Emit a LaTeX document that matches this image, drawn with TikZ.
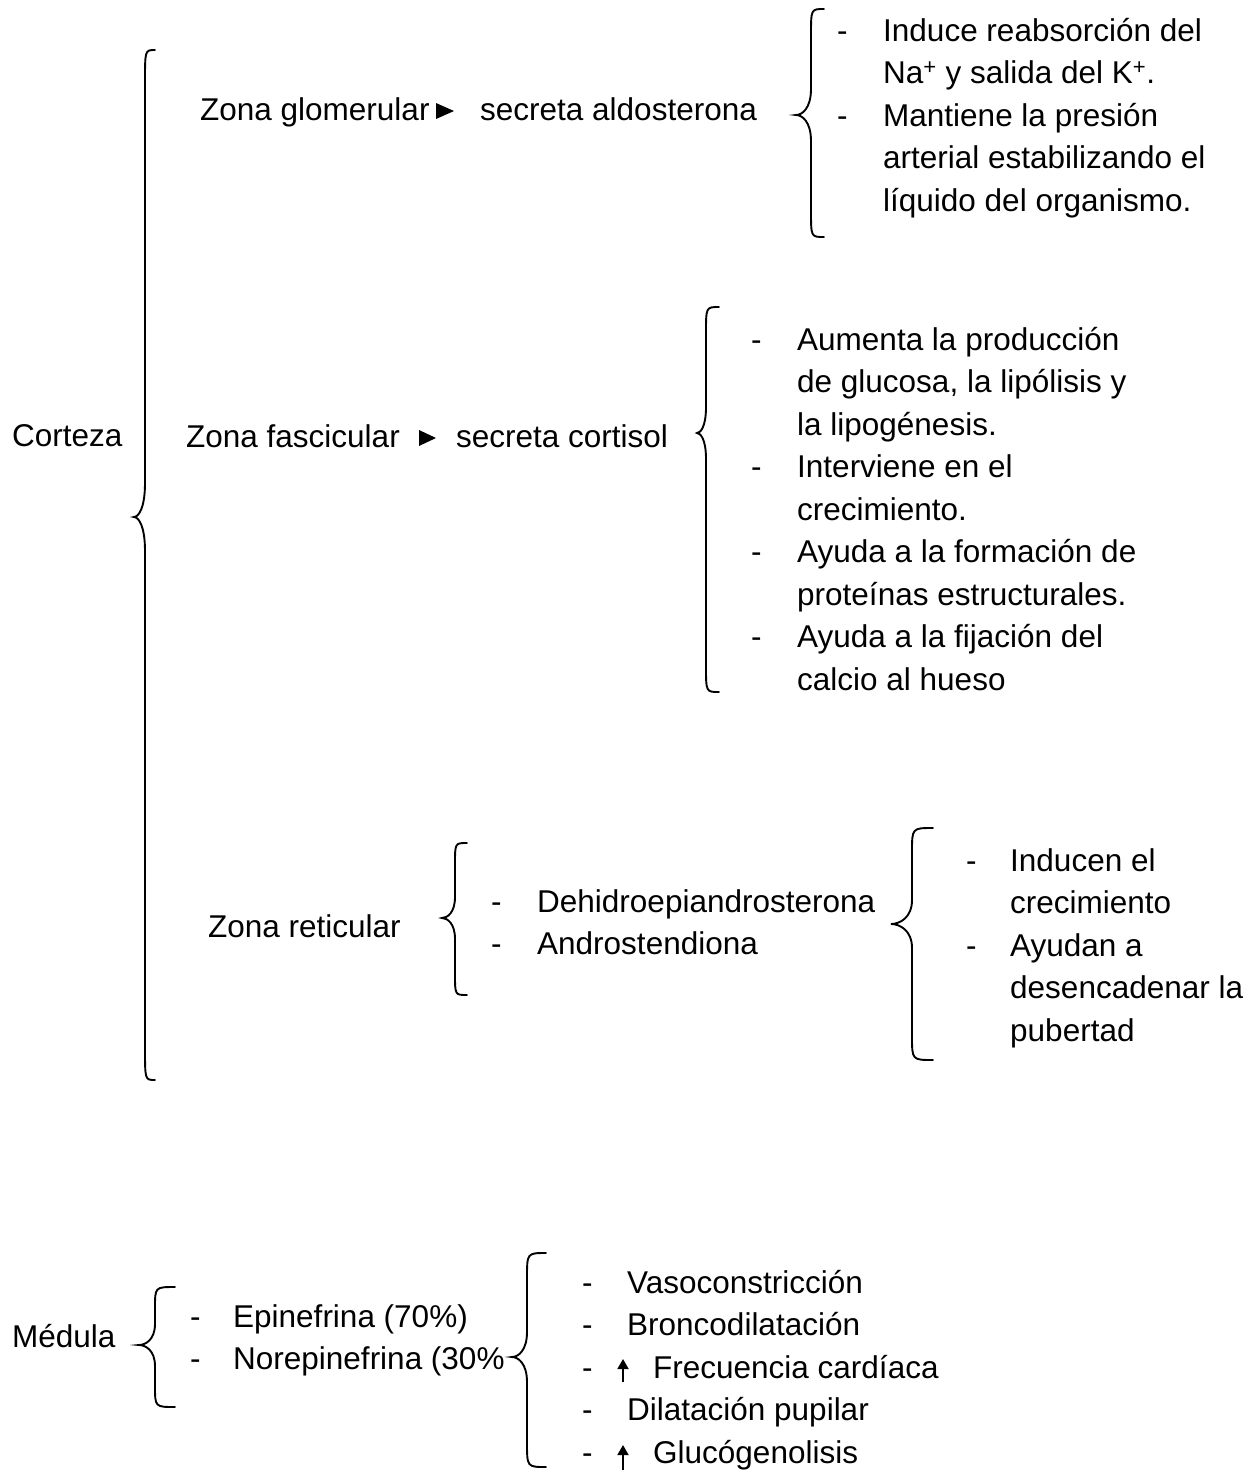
\documentclass[tikz,border=0pt]{standalone}
\usepackage{fontspec}
\setmainfont{Liberation Sans}
\usetikzlibrary{arrows.meta}
% #1 x end, #2 x line, #3 x tip, #4 y top, #5 y tip, #6 y bottom, #7 end radius, #8 tip radius
\newcommand\wbrace[8]{%
  \draw[brc] (#1,#4) .. controls (#2,#4) .. (#2,#4+#7) -- (#2,#5-#8)
    .. controls (#2,#5-0.25*#8) and (#3+0.4*#2-0.4*#3,#5) .. (#3,#5)
    .. controls (#3+0.4*#2-0.4*#3,#5) and (#2,#5+0.25*#8) .. (#2,#5+#8)
    -- (#2,#6-#7) .. controls (#2,#6) .. (#1,#6);}
\tikzset{
  txt/.style={anchor=base west, inner sep=0pt, font=\fontsize{31.5}{38}\selectfont},
  brc/.style={line width=1.9pt, line cap=round},
  uparrow/.style={line width=1.8pt, -{Triangle[length=10pt,width=11pt]}},
}
\begin{document}
\begin{tikzpicture}[x=1pt,y=-1pt]
\useasboundingbox (0,0) rectangle (1260,1470);

% ---------- Corteza ----------
\node[txt] (cort) at (12,446) {Corteza};
\wbrace{155}{145}{134}{50}{517}{1080}{32}{34}

% Zona glomerular
\node[txt] (zg) at (200,120) {Zona glomerular};
\fill (436,103) -- (454,111) -- (436,119) -- cycle;
\node[txt] (sa) at (480,120) {secreta aldosterona};
\wbrace{824}{811}{796}{9}{115}{237}{26}{26}
\node[txt] (d21) at (837,41) {-};
\node[txt] (t21) at (883,41) {Induce reabsorción del};
\node[txt] (t22) at (883,83.5) {Na\textsuperscript{+} y salida del K\textsuperscript{+}.};
\node[txt] (d22) at (837,126) {-};
\node[txt] (t23) at (883,126) {Mantiene la presión};
\node[txt] (t24) at (883,168.5) {arterial estabilizando el};
\node[txt] (t25) at (883,211) {líquido del organismo.};

% Zona fascicular
\node[txt] (zf) at (186,447) {Zona fascicular};
\fill (419,430) -- (436,438) -- (419,446) -- cycle;
\node[txt] (sc) at (456,447) {secreta cortisol};
\wbrace{719}{706}{697}{307}{433}{692}{26}{26}
\node[txt] (d31) at (751,350) {-};
\node[txt] (t31) at (797,350) {Aumenta la producción};
\node[txt] (t32) at (797,392.5) {de glucosa, la lipólisis y};
\node[txt] (t33) at (797,435) {la lipogénesis.};
\node[txt] (d32) at (751,477.5) {-};
\node[txt] (t34) at (797,477.5) {Interviene en el};
\node[txt] (t35) at (797,520) {crecimiento.};
\node[txt] (d33) at (751,562.5) {-};
\node[txt] (t36) at (797,562.5) {Ayuda a la formación de};
\node[txt] (t37) at (797,605) {proteínas estructurales.};
\node[txt] (d34) at (751,647.5) {-};
\node[txt] (t38) at (797,647.5) {Ayuda a la fijación del};
\node[txt] (t39) at (797,690) {calcio al hueso};

% Zona reticular
\node[txt] (zr) at (208,937) {Zona reticular};
\wbrace{467}{455}{442}{843}{918}{995}{21}{21}
\node[txt] (d41) at (491,912) {-};
\node[txt] (t41) at (537,912) {Dehidroepiandrosterona};
\node[txt] (d42) at (491,954) {-};
\node[txt] (t42) at (537,954) {Androstendiona};
\wbrace{933}{912}{891}{828}{924}{1060}{24}{24}
\node[txt] (d51) at (966,871) {-};
\node[txt] (t51) at (1010,871) {Inducen el};
\node[txt] (t52) at (1010,913.5) {crecimiento};
\node[txt] (d52) at (966,956) {-};
\node[txt] (t53) at (1010,956) {Ayudan a};
\node[txt] (t54) at (1010,998.5) {desencadenar la};
\node[txt] (t55) at (1010,1041) {pubertad};

% ---------- Médula ----------
\node[txt] (med) at (12,1347) {Médula};
\wbrace{175}{155}{139}{1287}{1345}{1407}{21}{21}
\node[txt] (d61) at (190,1327) {-};
\node[txt] (t61) at (233,1327) {Epinefrina (70\%)};
\node[txt] (d62) at (190,1369.5) {-};
\node[txt] (t62) at (233,1369.5) {Norepinefrina (30\%};
\wbrace{546}{527}{512}{1253}{1357}{1467}{25}{25}
\node[txt] (d71) at (582,1293) {-};
\node[txt] (t71) at (627,1293) {Vasoconstricción};
\node[txt] (d72) at (582,1335.5) {-};
\node[txt] (t72) at (627,1335.5) {Broncodilatación};
\node[txt] (d73) at (582,1378) {-};
\coordinate (a1s) at (623,1382);
\coordinate (a1e) at (623,1359);
\draw[uparrow] (a1s) -- (a1e);
\node[txt] (t73) at (653,1378) {Frecuencia cardíaca};
\node[txt] (d74) at (582,1420.5) {-};
\node[txt] (t74) at (627,1420.5) {Dilatación pupilar};
\node[txt] (d75) at (582,1463) {-};
\coordinate (a2s) at (623,1472);
\coordinate (a2e) at (623,1445);
\draw[uparrow] (a2s) -- (a2e);
\node[txt] (t75) at (653,1463) {Glucógenolisis};
\end{tikzpicture}
\end{document}
